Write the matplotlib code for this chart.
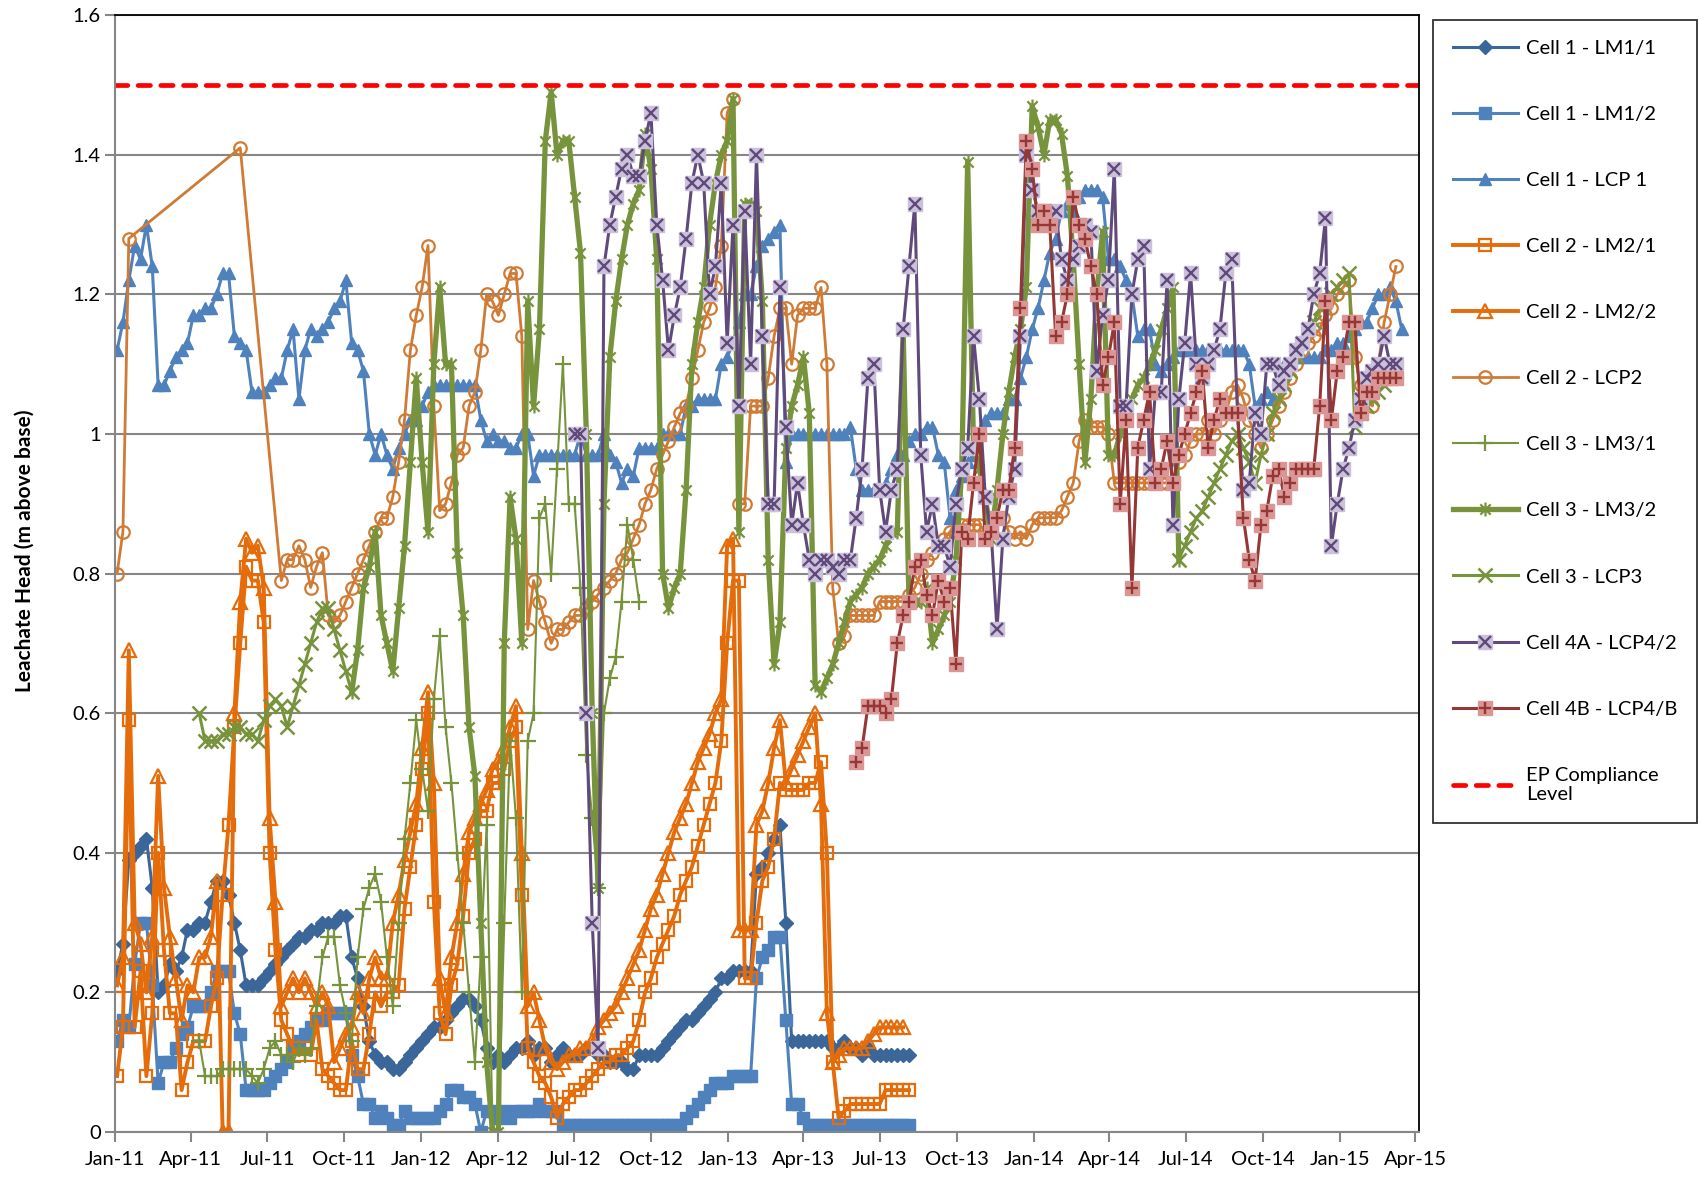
import numpy as np
import pandas as pd
import matplotlib
matplotlib.use('Agg')
import matplotlib.pyplot as plt
import matplotlib.dates as mdates
from matplotlib.path import Path
from matplotlib.legend_handler import HandlerTuple

plt.rcParams['font.family'] = ['Lato', 'DejaVu Sans']

# weekly readings, each series: first reading date + list of values (m above base)
lm11_start = '2011-01-03'
lm11 = [0.23, 0.27, 0.39, 0.40, 0.41, 0.42, 0.35, 0.20, 0.21, 0.24,
        0.23, 0.25, 0.29, 0.29, 0.30, 0.30, 0.33, 0.36, 0.36, 0.34,
        0.30, 0.26, 0.21, 0.21, 0.21, 0.22, 0.23, 0.24, 0.25, 0.26,
        0.27, 0.28, 0.28, 0.29, 0.29, 0.30, 0.30, 0.30, 0.31, 0.31,
        0.25, 0.22, 0.18, 0.13, 0.11, 0.10, 0.10, 0.09, 0.09, 0.10,
        0.11, 0.12, 0.13, 0.14, 0.15, 0.15, 0.16, 0.17, 0.18, 0.19,
        0.19, 0.18, 0.16, 0.12, 0.10, 0.11, 0.10, 0.11, 0.12, 0.12,
        0.13, 0.11, 0.12, 0.12, 0.10, 0.11, 0.12, 0.11, 0.11, 0.11,
        0.12, 0.12, 0.11, 0.11, 0.10, 0.10, 0.10, 0.09, 0.09, 0.11,
        0.11, 0.11, 0.11, 0.12, 0.13, 0.14, 0.15, 0.16, 0.16, 0.17,
        0.18, 0.19, 0.20, 0.22, 0.22, 0.23, 0.23, 0.23, 0.23, 0.37,
        0.38, 0.40, 0.42, 0.44, 0.30, 0.13, 0.13, 0.13, 0.13, 0.13,
        0.13, 0.13, 0.12, 0.12, 0.13, 0.12, 0.12, 0.11, 0.12, 0.11,
        0.11, 0.11, 0.11, 0.11, 0.11, 0.11]

lm12_start = '2011-01-03'
lm12 = [0.13, 0.16, 0.15, 0.24, 0.30, 0.30, 0.21, 0.07, 0.10, 0.10,
        0.12, 0.14, 0.15, 0.18, 0.18, 0.18, 0.20, 0.23, 0.23, 0.23,
        0.17, 0.14, 0.06, 0.06, 0.06, 0.06, 0.07, 0.08, 0.09, 0.10,
        0.12, 0.13, 0.14, 0.15, 0.16, 0.16, 0.17, 0.17, 0.17, 0.17,
        0.11, 0.08, 0.04, 0.04, 0.02, 0.03, 0.02, 0.01, 0.01, 0.03,
        0.02, 0.02, 0.02, 0.02, 0.02, 0.03, 0.04, 0.06, 0.06, 0.05,
        0.05, 0.04, 0.00, 0.03, 0.03, 0.02, 0.03, 0.02, 0.03, 0.03,
        0.03, 0.03, 0.04, 0.03, 0.03, 0.03, 0.01, 0.01, 0.01, 0.01,
        0.01, 0.01, 0.01, 0.01, 0.01, 0.01, 0.01, 0.01, 0.01, 0.01,
        0.01, 0.01, 0.01, 0.01, 0.01, 0.01, 0.01, 0.02, 0.03, 0.04,
        0.05, 0.06, 0.07, 0.07, 0.07, 0.08, 0.08, 0.08, 0.08, 0.22,
        0.25, 0.26, 0.28, 0.28, 0.16, 0.04, 0.04, 0.02, 0.01, 0.01,
        0.01, 0.01, 0.01, 0.01, 0.01, 0.01, 0.01, 0.01, 0.01, 0.01,
        0.01, 0.01, 0.01, 0.01, 0.01, 0.01]

lcp1_start = '2011-01-03'
lcp1 = [1.12, 1.16, 1.22, 1.27, 1.25, 1.30, 1.24, 1.07, 1.07, 1.09,
        1.11, 1.12, 1.13, 1.17, 1.17, 1.18, 1.18, 1.20, 1.23, 1.23,
        1.14, 1.13, 1.12, 1.06, 1.06, 1.06, 1.07, 1.08, 1.08, 1.12,
        1.15, 1.05, 1.12, 1.15, 1.14, 1.15, 1.16, 1.18, 1.19, 1.22,
        1.13, 1.12, 1.09, 1.00, 0.97, 1.00, 0.97, 0.95, 0.98, 1.00,
        1.02, 1.02, 1.04, 1.06, 1.07, 1.07, 1.07, 1.07, 1.07, 1.07,
        1.07, 1.07, 1.02, 0.99, 1.00, 0.99, 0.99, 0.98, 0.98, 1.00,
        1.00, 0.94, 0.97, 0.97, 0.97, 0.97, 0.97, 0.97, 0.97, 1.00,
        0.97, 0.97, 0.97, 1.00, 0.97, 0.96, 0.93, 0.95, 0.94, 0.98,
        0.98, 0.98, 0.98, 1.00, 1.00, 1.00, 1.00, 1.04, 1.04, 1.05,
        1.05, 1.05, 1.05, 1.10, 1.11, 1.13, 1.16, 1.20, 1.20, 1.24,
        1.27, 1.28, 1.29, 1.30, 0.96, 1.00, 1.00, 1.00, 1.00, 1.00,
        1.00, 1.00, 1.00, 1.00, 1.00, 1.01, 0.95, 0.92, 0.92, 0.92,
        0.92, 0.93, 0.95, 0.97, 0.97, 0.99, 1.00, 1.00, 1.01, 1.01,
        0.97, 0.96, 0.88, 0.92, 0.94, 0.96, 0.97, 1.00, 1.02, 1.03,
        1.03, 1.03, 1.05, 1.05, 1.08, 1.11, 1.15, 1.18, 1.22, 1.26,
        1.28, 1.32, 1.33, 1.32, 1.34, 1.35, 1.35, 1.35, 1.34, 1.25,
        1.25, 1.24, 1.22, 1.20, 1.14, 1.15, 1.15, 1.10, 1.09, 1.10,
        1.11, 1.12, 1.12, 1.12, 1.12, 1.12, 1.12, 1.12, 1.12, 1.12,
        1.12, 1.12, 1.12, 1.10, 1.04, 1.05, 1.06, 1.05, 1.08, 1.10,
        1.10, 1.11, 1.11, 1.11, 1.11, 1.11, 1.12, 1.12, 1.13, 1.13,
        1.14, 1.15, 1.16, 1.16, 1.18, 1.20, 1.20, 1.21, 1.19, 1.15]

lm21_start = '2011-01-03'
lm21 = [0.08, 0.15, 0.59, 0.15, 0.23, 0.08, 0.17, 0.40, 0.26, 0.17,
        0.17, 0.06, 0.10, 0.13, 0.13, 0.13, 0.18, 0.22, 0.34, 0.44,
        0.58, 0.70, 0.81, 0.79, 0.79, 0.73, 0.40, 0.26, 0.16, 0.14,
        0.12, 0.11, 0.12, 0.11, 0.16, 0.09, 0.08, 0.07, 0.06, 0.06,
        0.13, 0.09, 0.09, 0.14, 0.20, 0.18, 0.20, 0.20, 0.21, 0.32,
        0.38, 0.44, 0.52, 0.60, 0.33, 0.17, 0.14, 0.21, 0.24, 0.31,
        0.40, 0.42, 0.46, 0.46, 0.50, 0.50, 0.52, 0.56, 0.58, 0.34,
        0.12, 0.10, 0.08, 0.07, 0.05, 0.02, 0.04, 0.05, 0.06, 0.06,
        0.07, 0.08, 0.09, 0.10, 0.10, 0.11, 0.11, 0.12, 0.13, 0.16,
        0.20, 0.22, 0.25, 0.27, 0.29, 0.31, 0.34, 0.36, 0.38, 0.41,
        0.44, 0.47, 0.50, 0.56, 0.70, 0.79, 0.79, 0.22, 0.22, 0.30,
        0.36, 0.38, 0.42, 0.50, 0.49, 0.49, 0.49, 0.49, 0.50, 0.50,
        0.53, 0.40, 0.10, 0.02, 0.03, 0.04, 0.04, 0.04, 0.04, 0.04,
        0.04, 0.06, 0.06, 0.06, 0.06, 0.06]

lm22_start = '2011-01-03'
lm22 = [0.21, 0.25, 0.69, 0.30, 0.27, 0.20, 0.28, 0.51, 0.35, 0.28,
        0.22, 0.16, 0.21, 0.20, 0.25, 0.25, 0.28, 0.36, 0.00, 0.00,
        0.60, 0.76, 0.85, 0.83, 0.84, 0.78, 0.45, 0.33, 0.18, 0.20,
        0.22, 0.20, 0.22, 0.20, 0.18, 0.20, 0.18, 0.10, 0.12, 0.14,
        0.15, 0.20, 0.17, 0.22, 0.25, 0.22, 0.22, 0.30, 0.34, 0.39,
        0.43, 0.47, 0.55, 0.63, 0.50, 0.22, 0.17, 0.25, 0.30, 0.37,
        0.43, 0.45, 0.47, 0.49, 0.52, 0.53, 0.55, 0.58, 0.61, 0.40,
        0.18, 0.20, 0.16, 0.12, 0.10, 0.09, 0.10, 0.11, 0.11, 0.12,
        0.12, 0.13, 0.15, 0.16, 0.17, 0.18, 0.20, 0.22, 0.24, 0.26,
        0.29, 0.32, 0.34, 0.37, 0.40, 0.43, 0.45, 0.47, 0.50, 0.53,
        0.55, 0.57, 0.60, 0.62, 0.84, 0.85, 0.29, 0.29, 0.29, 0.44,
        0.46, 0.50, 0.55, 0.59, 0.50, 0.52, 0.54, 0.56, 0.58, 0.60,
        0.47, 0.17, 0.10, 0.11, 0.12, 0.12, 0.12, 0.12, 0.13, 0.14,
        0.15, 0.15, 0.15, 0.15, 0.15]

lcp2_start = '2011-01-03'
lcp2 = [0.80, 0.86, 1.28, None, None, None, None, None, None, None,
        None, None, None, None, None, None, None, None, None, None,
        None, 1.41, None, None, None, None, None, None, 0.79, 0.82,
        0.82, 0.84, 0.82, 0.78, 0.81, 0.83, 0.74, 0.73, 0.74, 0.76,
        0.78, 0.80, 0.82, 0.84, 0.86, 0.88, 0.88, 0.91, 0.96, 1.02,
        1.12, 1.17, 1.21, 1.27, 1.04, 0.89, 0.90, 0.93, 0.97, 0.98,
        1.04, 1.06, 1.12, 1.20, 1.19, 1.17, 1.20, 1.23, 1.23, 1.14,
        0.72, 0.79, 0.76, 0.73, 0.70, 0.72, 0.72, 0.73, 0.74, 0.74,
        0.75, 0.76, 0.77, 0.78, 0.79, 0.80, 0.82, 0.83, 0.85, 0.87,
        0.90, 0.92, 0.95, 0.97, 0.99, 1.01, 1.03, 1.04, 1.08, 1.12,
        1.16, 1.18, 1.21, 1.27, 1.46, 1.48, 0.90, 0.90, 1.04, 1.04,
        1.04, 1.08, 1.14, 1.18, 1.18, 1.10, 1.17, 1.18, 1.18, 1.18,
        1.21, 1.10, 0.78, 0.70, 0.71, 0.74, 0.74, 0.74, 0.74, 0.74,
        0.76, 0.76, 0.76, 0.76, 0.76, 0.77, 0.78, 0.80, 0.82, 0.83,
        0.84, 0.85, 0.86, 0.86, 0.87, 0.87, 0.87, 0.87, 0.86, 0.86,
        0.88, 0.88, 0.86, 0.85, 0.86, 0.85, 0.87, 0.88, 0.88, 0.88,
        0.88, 0.89, 0.91, 0.93, 0.99, 1.02, 1.01, 1.01, 1.01, 1.00,
        0.93, 0.93, 0.93, 0.93, 0.93, 0.93, 0.93, 0.93, 0.93, 0.93,
        0.93, 0.96, 0.97, 0.99, 1.00, 1.00, 1.02, 1.00, 1.02, 1.03,
        1.06, 1.07, 1.05, 1.02, 1.00, 0.98, 1.00, 1.02, 1.04, 1.06,
        1.08, 1.10, 1.12, 1.13, 1.14, 1.15, 1.17, 1.18, 1.20, 1.21,
        1.22, 1.11, 1.07, 1.05, 1.04, 1.10, 1.16, 1.20, 1.24]

lm31_start = '2011-04-11'
lm31 = [0.13, 0.08, 0.08, 0.08, 0.09, 0.09, 0.09, 0.09, 0.09, 0.08,
        0.07, 0.09, 0.12, 0.13, 0.11, 0.11, 0.10, 0.12, 0.11, 0.12,
        0.18, 0.25, 0.28, 0.28, 0.21, 0.17, 0.13, 0.25, 0.32, 0.35,
        0.37, 0.33, 0.25, 0.18, 0.30, 0.42, 0.50, 0.59, 0.52, 0.46,
        0.62, 0.71, 0.58, 0.50, 0.40, 0.30, 0.20, 0.10, 0.25, 0.44,
        0.00, 0.00, 0.30, 0.56, 0.45, 0.20, 0.56, 0.60, 0.88, 0.90,
        0.80, 0.95, 1.10, 0.90, 0.90, 0.78, 0.54, 0.45, 0.35, 0.60,
        0.65, 0.68, 0.76, 0.87, 0.82, 0.76]

lm32_start = '2011-10-10'
lm32 = [0.63, 0.69, 0.78, 0.81, 0.86, 0.74, 0.70, 0.66, 0.75, 0.84,
        0.96, 1.08, 0.96, 0.86, 1.10, 1.21, 1.10, 1.10, 0.83, 0.74,
        0.58, 0.51, 0.30, 0.10, 0.00, 0.00, 0.70, 0.91, 0.85, 0.70,
        1.19, 1.04, 1.15, 1.42, 1.49, 1.40, 1.42, 1.42, 1.34, 1.26,
        1.00, 0.60, 0.35, 0.90, 1.11, 1.19, 1.25, 1.30, 1.33, 1.35,
        1.43, 1.38, 1.25, 0.80, 0.75, 0.78, 0.80, 0.92, 1.10, 1.16,
        1.21, 1.30, 1.36, 1.40, 1.42, 1.48, 0.86, 1.33, 1.33, 1.32,
        1.19, 0.82, 0.67, 0.73, 0.98, 1.04, 1.07, 1.11, 1.03, 0.64,
        0.63, 0.65, 0.67, 0.70, 0.73, 0.76, 0.77, 0.78, 0.80, 0.81,
        0.82, 0.84, 0.86, 0.86, 1.15, 0.76, 0.76, 0.76, 0.78, 0.70,
        0.72, 0.74, 0.76, 0.82, 0.95, 1.39, 0.98, 0.95, 0.91, 0.85,
        0.92, 1.00, 1.06, 1.11, 1.15, 1.21, 1.47, 1.44, 1.40, 1.45,
        1.45, 1.43, 1.37, 1.25, 1.10, 0.96, 1.05, 1.20, 1.29, 0.97,
        0.97, 1.00, 1.03, 1.05, 1.07, 1.08, 1.10, 1.12, 1.15, 1.18,
        1.21, 0.82]

lcp3_early_start = '2011-04-11'
lcp3_early = [0.60, 0.56, 0.56, 0.56, 0.57, 0.57, 0.58, 0.58, 0.57, 0.57,
              0.56, 0.59, 0.61, 0.62, 0.61, 0.58, 0.61, 0.64, 0.67, 0.70,
              0.73, 0.75, 0.75, 0.72, 0.69, 0.66, 0.63]
lcp3_late_start = '2014-06-23'
lcp3_late = [0.82, 0.84, 0.86, 0.88, 0.89, 0.91, 0.93, 0.95, 0.97, 0.99,
             1.00, 0.98, 0.96, 0.93, 0.97, 1.00, 1.03, 1.05, 1.07, 1.09,
             1.11, 1.13, 1.15, 1.16, 1.18, 1.19, 1.20, 1.21, 1.22, 1.23,
             1.01, 1.03, 1.04, 1.05, 1.06, 1.07, 1.08, 1.09]

lcp42_start = '2012-07-02'
lcp42 = [1.00, 1.00, 0.60, 0.30, 0.12, 1.24, 1.30, 1.34, 1.38, 1.40,
         1.37, 1.37, 1.42, 1.46, 1.30, 1.22, 1.12, 1.17, 1.21, 1.28,
         1.36, 1.40, 1.36, 1.20, 1.24, 1.36, 1.13, 1.30, 1.04, 1.32,
         1.10, 1.40, 1.14, 0.90, 0.90, 1.21, 1.01, 0.87, 0.93, 0.87,
         0.82, 0.80, 0.82, 0.82, 0.81, 0.80, 0.82, 0.82, 0.88, 0.95,
         1.08, 1.10, 0.92, 0.86, 0.92, 0.95, 1.15, 1.24, 1.33, 0.97,
         0.86, 0.90, 0.84, 0.84, 0.81, 0.90, 0.95, 0.98, 1.14, 1.05,
         0.91, 0.86, 0.72, 0.85, 0.91, 0.95, 1.14, 1.40, 1.35, 1.32,
         1.32, 1.31, 1.32, 1.25, 1.22, 1.25, 1.27, 1.30, 1.29, 1.09,
         1.17, 1.22, 1.38, 1.04, 1.04, 1.20, 1.25, 1.27, 0.95, 1.06,
         1.06, 1.22, 0.87, 1.05, 1.13, 1.23, 1.10, 1.08, 1.10, 1.12,
         1.15, 1.23, 1.25, 1.03, 0.92, 0.93, 1.03, 1.00, 1.10, 1.10,
         1.07, 1.09, 1.10, 1.12, 1.13, 1.15, 1.20, 1.23, 1.31, 0.84,
         0.90, 0.95, 0.98, 1.02, 1.05, 1.08, 1.09, 1.10, 1.14, 1.10,
         1.10]

lcp4b_start = '2013-06-03'
lcp4b = [0.53, 0.55, 0.61, 0.61, 0.61, 0.60, 0.62, 0.70, 0.74, 0.76,
         0.81, 0.82, 0.77, 0.74, 0.79, 0.76, 0.78, 0.67, 0.86, 0.85,
         0.93, 1.00, 0.85, 0.86, 0.88, 0.92, 0.92, 0.98, 1.18, 1.42,
         1.38, 1.30, 1.32, 1.30, 1.14, 1.16, 1.20, 1.34, 1.30, 1.28,
         1.24, 1.20, 1.07, 1.11, 1.16, 0.90, 1.02, 0.78, 0.98, 1.02,
         1.06, 0.93, 0.95, 0.99, 0.93, 0.97, 1.00, 1.03, 1.06, 1.09,
         0.98, 1.02, 1.05, 1.03, 1.03, 1.03, 0.88, 0.82, 0.79, 0.87,
         0.89, 0.94, 0.95, 0.91, 0.93, 0.95, 0.95, 0.95, 0.95, 1.04,
         1.19, 1.02, 1.09, 1.11, 1.16, 1.16, 1.03, 1.06, 1.06, 1.08,
         1.08, 1.08, 1.08]

ep_level = 1.5

y_ticks = [0, 0.2, 0.4, 0.6, 0.8, 1.0, 1.2, 1.4, 1.6]
y_tick_labels = ['0', '0.2', '0.4', '0.6', '0.8', '1', '1.2', '1.4', '1.6']
x_ticks = pd.date_range('2011-01-01', '2015-04-01', freq='3MS')


def weekly(start, vals, connect=True):
    d = pd.date_range(start, periods=len(vals), freq='7D').to_numpy()
    v = np.array([np.nan if x is None else x for x in vals], dtype=float)
    if connect:
        ok = ~np.isnan(v)
        d, v = d[ok], v[ok]
    return d, v


star = Path([(-1, -1), (1, 1), (-1, 1), (1, -1), (0, -1.35), (0, 1.35)],
            [Path.MOVETO, Path.LINETO, Path.MOVETO, Path.LINETO, Path.MOVETO, Path.LINETO])

fig = plt.figure(figsize=(17.07, 11.79), dpi=100)
ax = fig.add_axes([0.0676, 0.0399, 0.7634, 0.9472])

handles, labels = [], []

d, v = weekly(lm11_start, lm11)
h, = ax.plot(d, v, color='#3A6699', lw=2.2, marker='D', ms=7, mec='#3A6699')
handles.append(h); labels.append('Cell 1 - LM1/1')

d, v = weekly(lm12_start, lm12)
h, = ax.plot(d, v, color='#4F81BD', lw=2.2, marker='s', ms=8.5, mec='#4F81BD')
handles.append(h); labels.append('Cell 1 - LM1/2')

d, v = weekly(lcp1_start, lcp1)
h, = ax.plot(d, v, color='#4F81BD', lw=2.2, marker='^', ms=9, mec='#4F81BD')
handles.append(h); labels.append('Cell 1 - LCP 1')

d, v = weekly(lm21_start, lm21)
h, = ax.plot(d, v, color='#E46C0A', lw=2.8, marker='s', ms=8, mfc='none', mew=1.6)
handles.append(h); labels.append('Cell 2 - LM2/1')

d, v = weekly(lm22_start, lm22)
h, = ax.plot(d, v, color='#E46C0A', lw=2.8, marker='^', ms=10, mfc='none', mew=1.6)
handles.append(h); labels.append('Cell 2 - LM2/2')

d, v = weekly(lcp2_start, lcp2)
h, = ax.plot(d, v, color='#D07B35', lw=2.0, marker='o', ms=9, mfc='none', mew=1.6)
handles.append(h); labels.append('Cell 2 - LCP2')

d, v = weekly(lm31_start, lm31)
h, = ax.plot(d, v, color='#77933C', lw=1.5, marker='+', ms=11, mew=1.6)
handles.append(h); labels.append('Cell 3 - LM3/1')

d, v = weekly(lm32_start, lm32)
h, = ax.plot(d, v, color='#77933C', lw=3.8, marker=star, ms=10, mew=1.6)
handles.append(h); labels.append('Cell 3 - LM3/2')

d, v = weekly(lcp3_early_start, lcp3_early)
h, = ax.plot(d, v, color='#77933C', lw=2.2, marker='x', ms=10, mew=1.8)
d, v = weekly(lcp3_late_start, lcp3_late)
ax.plot(d, v, color='#77933C', lw=2.2, marker='x', ms=10, mew=1.8)
handles.append(h); labels.append('Cell 3 - LCP3')

d, v = weekly(lcp42_start, lcp42)
h1, = ax.plot(d, v, color='#604A7B', lw=2.2, marker='s', ms=10, mfc='#CCC1DA', mec='#CCC1DA')
h2, = ax.plot(d, v, ls='none', marker='x', ms=8, color='#604A7B', mew=1.7)
handles.append((h1, h2)); labels.append('Cell 4A - LCP4/2')

d, v = weekly(lcp4b_start, lcp4b)
h1, = ax.plot(d, v, color='#953735', lw=2.2, marker='s', ms=10, mfc='#DA9694', mec='#DA9694')
h2, = ax.plot(d, v, ls='none', marker='+', ms=9, color='#953735', mew=1.7)
handles.append((h1, h2)); labels.append('Cell 4B - LCP4/B')

h = ax.axhline(ep_level, color='#FF0000', lw=3.4, dashes=(2.6, 2.2), dash_capstyle='round')
handles.append(h); labels.append('EP Compliance\nLevel')

ax.set_xlim(np.datetime64('2011-01-01'), np.datetime64('2015-04-05'))
ax.set_ylim(0, 1.6)
ax.set_yticks(y_ticks)
ax.set_yticklabels(y_tick_labels)
ax.set_xticks(x_ticks.to_numpy())
ax.xaxis.set_major_formatter(mdates.DateFormatter('%b-%y'))
ax.tick_params(axis='both', labelsize=14.5, colors='#868686', labelcolor='black', width=1.5, length=7)
ax.tick_params(axis='x', pad=7)
ax.yaxis.grid(True, color='#868686', lw=1.5)
ax.set_axisbelow(True)
for s in ['left', 'bottom']:
    ax.spines[s].set_color('#868686')
    ax.spines[s].set_linewidth(1.5)
for s in ['top', 'right']:
    ax.spines[s].set_color('black')
    ax.spines[s].set_linewidth(1.3)

ax.set_ylabel('Leachate Head (m above base)', fontsize=15, fontweight='bold')
ax.yaxis.set_label_coords(-0.062, 0.52)

leg = ax.legend(handles, labels, loc='upper left',
                bbox_to_anchor=(1433 / 1707, 1 - 20 / 1179), bbox_transform=fig.transFigure,
                fancybox=False, edgecolor='black', fontsize=14.5, labelspacing=2.43,
                handlelength=3.2, handletextpad=0.4, borderpad=1.0, borderaxespad=0,
                handler_map={tuple: HandlerTuple(ndivide=1, pad=0)})
leg.get_frame().set_linewidth(1.3)

fig.savefig('out.png', dpi=100)
